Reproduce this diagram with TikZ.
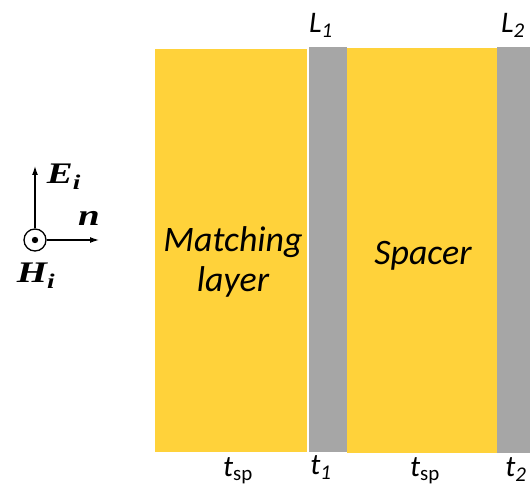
\documentclass[tikz,border=0pt]{standalone}
\usepackage{fontspec}
\setmainfont{Carlito}
\newfontfamily\fieldfont{Liberation Serif}
\usetikzlibrary{arrows.meta, positioning}
\definecolor{layeryellow}{RGB}{255,210,58}
\definecolor{sheetgray}{RGB}{166,166,166}
\newcommand{\widefield}[1]{\scalebox{1.3}[1]{#1}}

\begin{document}
\begin{tikzpicture}[
    x=1bp, y=-1bp,
    >={Latex[length=9bp,width=6bp]},
    layer/.style={inner sep=0pt, outer sep=0pt, anchor=north west},
    bigtext/.style={font=\fontsize{36}{41}\selectfont\itshape, align=center, inner sep=0pt},
    dimtext/.style={font=\fontsize{30}{34}\selectfont\itshape, inner sep=0pt},
    fieldtext/.style={font=\fontsize{30}{32}\selectfont\fieldfont\bfseries\itshape, inner sep=0pt},
]
    \useasboundingbox (0,0) rectangle (530,500);
    % layers
    \node[layer, fill=layeryellow, minimum width=152bp, minimum height=403bp] (match) at (155,49) {};
    \node[layer, fill=sheetgray, minimum width=38bp, minimum height=405bp] (sheet1) at (309,47) {};
    \node[layer, fill=layeryellow, minimum width=150bp, minimum height=405bp] (spacer) at (347,48) {};
    \node[layer, fill=sheetgray, minimum width=34bp, minimum height=406bp] (sheet2) at (497,47) {};
    \node[bigtext] (matchtxt) at (233,262) {Matching\\layer};
    \node[bigtext] (spacertxt) at (423,256) {Spacer};
    % labels
    \node[dimtext] (lone) at (321,25) {L\textsubscript{1}};
    \node[dimtext] (ltwo) at (513,25) {L\textsubscript{2}};
    \node[dimtext] (tspone) at (238,471) {t\textsubscript{\upshape sp}};
    \node[dimtext] (tone) at (321,468) {t\textsubscript{1}};
    \node[dimtext] (tsptwo) at (425,471) {t\textsubscript{\upshape sp}};
    \node[dimtext] (ttwo) at (516,470) {t\textsubscript{2}};
    % fields
    \node[draw, circle, line width=1.3bp, minimum size=22bp, inner sep=0pt] (hfield) at (35,240) {};
    \fill (hfield.center) circle (3.2);
    \coordinate (etip) at (35,166);
    \coordinate (ntip) at (99,240);
    \draw[->, line width=1.3bp] (hfield) -- (etip);
    \draw[->, line width=1.3bp] (hfield) -- (ntip);
    \node[fieldtext] (elabel) at (64,177) {\widefield{E\textsubscript{i}}};
    \node[fieldtext] (nlabel) at (89,218) {\widefield{n}};
    \node[fieldtext] (hlabel) at (36,276) {\widefield{H\textsubscript{i}}};
\end{tikzpicture}
\end{document}
